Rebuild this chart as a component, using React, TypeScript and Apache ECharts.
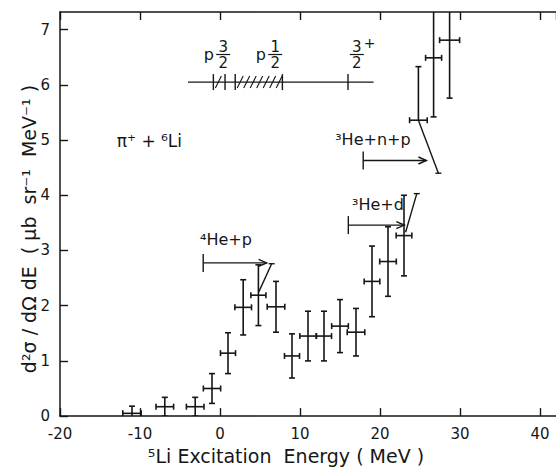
import React, { useEffect, useRef } from "react";
import * as echarts from "echarts";

// ---- data ----
const energy = [-11.0, -6.9, -3.1, -1.0, 1.0, 2.9, 4.8, 7.0, 9.0, 11.0, 13.0, 15.0, 17.0, 19.0, 21.0, 23.0, 24.8, 26.7, 28.7];
const crossSection = [0.05, 0.17, 0.17, 0.5, 1.14, 1.97, 2.19, 1.98, 1.09, 1.45, 1.45, 1.63, 1.52, 2.44, 2.8, 3.27, 5.36, 6.49, 6.81];
const energyErr = [1.15, 1.1, 1.1, 1.08, 0.94, 1.04, 0.94, 1.1, 0.94, 1.02, 0.94, 1.04, 1.1, 0.98, 1.04, 0.98, 1.1, 1.0, 1.25];
const errLow = [0.13, 0.17, 0.17, 0.27, 0.37, 0.5, 0.55, 0.46, 0.4, 0.45, 0.45, 0.48, 0.43, 0.64, 0.63, 0.73, 0, 1.07, 1.05];
const errHigh = [0.13, 0.17, 0.17, 0.27, 0.37, 0.5, 0.55, 0.46, 0.4, 0.45, 0.45, 0.48, 0.43, 0.64, 0.63, 0.73, 0.97, 1.07, 1.05];

const xTickValues = [-20, -10, 0, 10, 20, 30, 40];
const yTickValues = [0, 1, 2, 3, 4, 5, 6, 7];

const xTitle = "⁵Li Excitation  Energy ( MeV )";
const yTitle = "d²σ / dΩ dE  ( μb  sr⁻¹  MeV⁻¹ )";

// level scheme (data units)
const levelLine = [-4.0, 19.2];
const levelY = 6.05;
const levelTicks = [-0.83, 0.63, 1.9, 7.8, 16.0];
const hatched = [[-0.83, 0.63], [1.9, 7.8]];

// thresholds: [start E, end E, y]
const thresholds = [
  [-2.1, 5.83, 2.775],
  [16.04, 23.04, 3.46],
  [17.9, 25.8, 4.63],
];
// sketch lines: [x1, y1, x2, y2]
const sketchLines = [
  [4.85, 2.25, 6.46, 2.76],
  [23.2, 3.33, 24.6, 4.03],
  [24.8, 5.36, 27.3, 4.4],
];

const INK = "#161616";
const FONT = "'DejaVu Sans', sans-serif";

const renderErr = (params: any, api: any) => {
  const x = api.value(0), y = api.value(1), dx = api.value(2), lo = api.value(3), hi = api.value(4);
  const c = api.coord([x, y]);
  const l = api.coord([x - dx, y]);
  const r = api.coord([x + dx, y]);
  const t = api.coord([x, y + hi]);
  const b = api.coord([x, y - lo]);
  const cap = 3;
  const style = { stroke: INK, lineWidth: 1.6, fill: null };
  const children: any[] = [
    { type: "line", shape: { x1: l[0], y1: c[1], x2: r[0], y2: c[1] }, style },
    { type: "line", shape: { x1: l[0], y1: c[1] - cap, x2: l[0], y2: c[1] + cap }, style },
    { type: "line", shape: { x1: r[0], y1: c[1] - cap, x2: r[0], y2: c[1] + cap }, style },
  ];
  if (hi > 0) {
    children.push({ type: "line", shape: { x1: c[0], y1: c[1], x2: t[0], y2: t[1] }, style });
    children.push({ type: "line", shape: { x1: t[0] - cap, y1: t[1], x2: t[0] + cap, y2: t[1] }, style });
  }
  if (lo > 0) {
    children.push({ type: "line", shape: { x1: c[0], y1: c[1], x2: b[0], y2: b[1] }, style });
    children.push({ type: "line", shape: { x1: b[0] - cap, y1: b[1], x2: b[0] + cap, y2: b[1] }, style });
  }
  return { type: "group", children };
};

const txt = (text: string, p: number[], size: number, align = "left", vAlign = "middle") => ({
  type: "text",
  style: { text, x: p[0], y: p[1], fill: INK, fontSize: size, fontFamily: FONT, align, verticalAlign: vAlign },
});

const renderAnno = (params: any, api: any) => {
  const style = { stroke: INK, lineWidth: 1.4, fill: null };
  const ch: any[] = [];
  // level line
  const a = api.coord([levelLine[0], levelY]);
  const bb = api.coord([levelLine[1], levelY]);
  ch.push({ type: "line", shape: { x1: a[0], y1: a[1], x2: bb[0], y2: bb[1] }, style });
  levelTicks.forEach((e) => {
    const p = api.coord([e, levelY]);
    ch.push({ type: "line", shape: { x1: p[0], y1: p[1] - 8, x2: p[0], y2: p[1] + 8 }, style });
  });
  hatched.forEach(([e1, e2]) => {
    const p1 = api.coord([e1, levelY]);
    const p2 = api.coord([e2, levelY]);
    for (let x = p1[0] + 2; x + 6 <= p2[0] + 1; x += 6.5) {
      ch.push({ type: "line", shape: { x1: x, y1: p1[1] + 6, x2: x + 6, y2: p1[1] - 6 }, style: { stroke: INK, lineWidth: 1.1 } });
    }
  });
  // level labels
  const frac = (num: string, den: string, e: number, pre: string | null, sup: string | null) => {
    const cTop = api.coord([e, 6.69]);
    const cBar = api.coord([e, 6.55]);
    const cBot = api.coord([e, 6.39]);
    ch.push(txt(num, cTop, 15, "center"));
    ch.push(txt(den, cBot, 15, "center"));
    ch.push({ type: "line", shape: { x1: cBar[0] - 7, y1: cBar[1], x2: cBar[0] + 7, y2: cBar[1] }, style: { stroke: INK, lineWidth: 1.2 } });
    if (pre) {
      const pp = api.coord([e - 1.8, 6.55]);
      ch.push(txt(pre, pp, 16, "center"));
    }
    if (sup) {
      const sp = api.coord([e + 1.6, 6.76]);
      ch.push(txt(sup, sp, 14, "center"));
    }
  };
  frac("3", "2", 0.4, "p", null);
  frac("1", "2", 6.9, "p", null);
  frac("3", "2", 17.1, null, "+");

  // thresholds with arrows
  thresholds.forEach(([e1, e2, y]) => {
    const s = api.coord([e1, y]);
    const e = api.coord([e2, y]);
    ch.push({ type: "line", shape: { x1: s[0], y1: s[1], x2: e[0], y2: e[1] }, style });
    ch.push({ type: "line", shape: { x1: s[0], y1: s[1] - 9, x2: s[0], y2: s[1] + 9 }, style });
    ch.push({ type: "polyline", shape: { points: [[e[0] - 8, e[1] - 3.5], [e[0], e[1]], [e[0] - 8, e[1] + 3.5]] }, style });
  });
  sketchLines.forEach(([x1, y1, x2, y2]) => {
    const p = api.coord([x1, y1]);
    const q = api.coord([x2, y2]);
    ch.push({ type: "line", shape: { x1: p[0], y1: p[1], x2: q[0], y2: q[1] }, style });
    ch.push({ type: "line", shape: { x1: q[0] - 3, y1: q[1], x2: q[0] + 3, y2: q[1] }, style });
  });

  // reaction labels
  ch.push(txt("π⁺ + ⁶Li", api.coord([-12.9, 4.99]), 17));
  ch.push(txt("⁴He+p", api.coord([-2.5, 3.2]), 16));
  ch.push(txt("³He+d", api.coord([16.5, 3.84]), 16));
  ch.push(txt("³He+n+p", api.coord([14.4, 5.01]), 16));
  return { type: "group", children: ch };
};

export default function App() {
  const ref = useRef<HTMLDivElement>(null);
  useEffect(() => {
    if (!ref.current) return;
    const chart = echarts.init(ref.current, undefined, { renderer: "svg" });
    const axisLine = { show: true, onZero: false, lineStyle: { color: INK, width: 1.5 } };
    const tick = { show: true, inside: true, length: 8, lineStyle: { color: INK, width: 1.4 } };
    chart.setOption({
      animation: false,
      backgroundColor: "#ffffff",
      grid: { left: 60, right: 0, top: 12, bottom: 49, containLabel: false },
      graphic: [
        {
          type: "text",
          x: 29,
          y: 229,
          rotation: Math.PI / 2,
          silent: true,
          style: { text: yTitle, fill: INK, fontSize: 19, fontFamily: FONT, align: "center", verticalAlign: "middle" },
        },
      ],
      xAxis: [
        {
          type: "value",
          min: -20,
          max: 42,
          interval: 10,
          position: "bottom",
          axisLine,
          axisTick: tick,
          splitLine: { show: false },
          axisLabel: {
            color: INK,
            fontSize: 15,
            fontFamily: FONT,
            margin: 10,
            showMaxLabel: false,
            formatter: (v: number) => (xTickValues.includes(v) ? String(v) : ""),
          },
          name: xTitle,
          nameLocation: "middle",
          nameGap: 29,
          nameTextStyle: { color: INK, fontSize: 19, fontFamily: FONT, padding: [0, 44, 0, 0] },
        },
        {
          type: "value",
          min: -20,
          max: 42,
          interval: 10,
          position: "top",
          axisLine,
          axisTick: tick,
          axisLabel: { show: false },
          splitLine: { show: false },
        },
      ],
      yAxis: {
        type: "value",
        min: 0,
        max: 7.32,
        interval: 1,
        axisLine,
        axisTick: tick,
        splitLine: { show: false },
        axisLabel: {
          color: INK,
          fontSize: 15,
          fontFamily: FONT,
          margin: 10,
          showMaxLabel: false,
          formatter: (v: number) => (yTickValues.includes(v) ? String(v) : ""),
        },
      },
      series: [
        {
          type: "custom",
          renderItem: renderErr,
          clip: true,
          silent: true,
          encode: { x: 0, y: 1 },
          data: energy.map((e, i) => [e, crossSection[i], energyErr[i], errLow[i], errHigh[i]]),
        },
        {
          type: "custom",
          renderItem: renderAnno,
          clip: false,
          silent: true,
          encode: { x: 0, y: 1 },
          data: [[0, 0]],
        },
      ],
    });
    return () => chart.dispose();
  }, []);
  return <div ref={ref} style={{ width: 556, height: 470, position: "absolute", left: 0, top: 0 }} />;
}
